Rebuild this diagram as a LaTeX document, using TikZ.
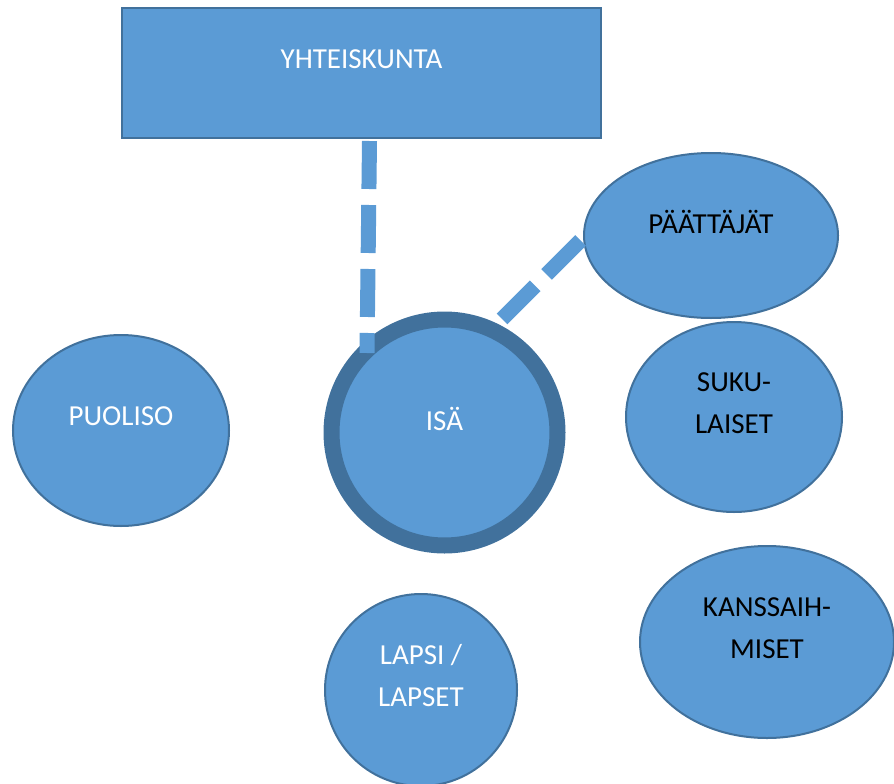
\documentclass[tikz,border=0pt]{standalone}
\usepackage{fontspec}
\setmainfont{Carlito}
\usepackage{tikz}
\usetikzlibrary{shapes.geometric}
\definecolor{officeblue}{HTML}{5B9BD5}
\definecolor{officeline}{HTML}{41719C}

\begin{document}
\begin{tikzpicture}[x=1pt,y=-1pt,
    bubble/.style={fill=officeblue,draw=officeline,line width=2pt,inner sep=0pt},
    txt/.style={font=\fontsize{29}{42}\selectfont,align=center,yshift=14pt,inner sep=0pt},
    link/.style={draw=officeblue,line width=15pt,dash pattern=on 48pt off 16pt}]
\useasboundingbox (0,0) rectangle (894,784);
\begin{scope}
    \node[bubble,rectangle,minimum width=479pt,minimum height=130pt,
          label={[txt,text=white]center:YHTEISKUNTA}] (yht) at (361.5,73) {};
    \node[bubble,ellipse,minimum width=216pt,minimum height=191pt,
          label={[txt,text=white]center:PUOLISO}] (puoliso) at (121,430.5) {};
    \node[bubble,circle,draw=officeline,line width=16pt,minimum size=226pt,
          label={[txt,text=white]center:ISÄ}] (isa) at (444.5,432.5) {};
    \node[bubble,ellipse,minimum width=254pt,minimum height=165pt,
          label={[txt,text=black]center:PÄÄTTÄJÄT}] (paat) at (711,235.5) {};
    \node[bubble,ellipse,minimum width=216pt,minimum height=190pt,
          label={[txt,text=black]center:SUKU-\\LAISET}] (suku) at (734,417) {};
    \node[bubble,ellipse,minimum width=254pt,minimum height=192pt,
          label={[txt,text=black]center:KANSSAIH-\\MISET}] (kanssa) at (767,642) {};
    \node[bubble,circle,minimum size=192pt,
          label={[txt,text=white]center:LAPSI /\\LAPSET}] (lapsi) at (421,690) {};
\end{scope}
% dashed ties to the centre
\begin{scope}
    \path [link] ([shift={(8,2)}]yht.south) edge ([shift={(-77.5,-79.5)}]isa.center);
    \path [link] ([shift={(-130.5,5)}]paat.center) edge ([shift={(57.5,-113.5)}]isa.center);
\end{scope}
\end{tikzpicture}
\end{document}
